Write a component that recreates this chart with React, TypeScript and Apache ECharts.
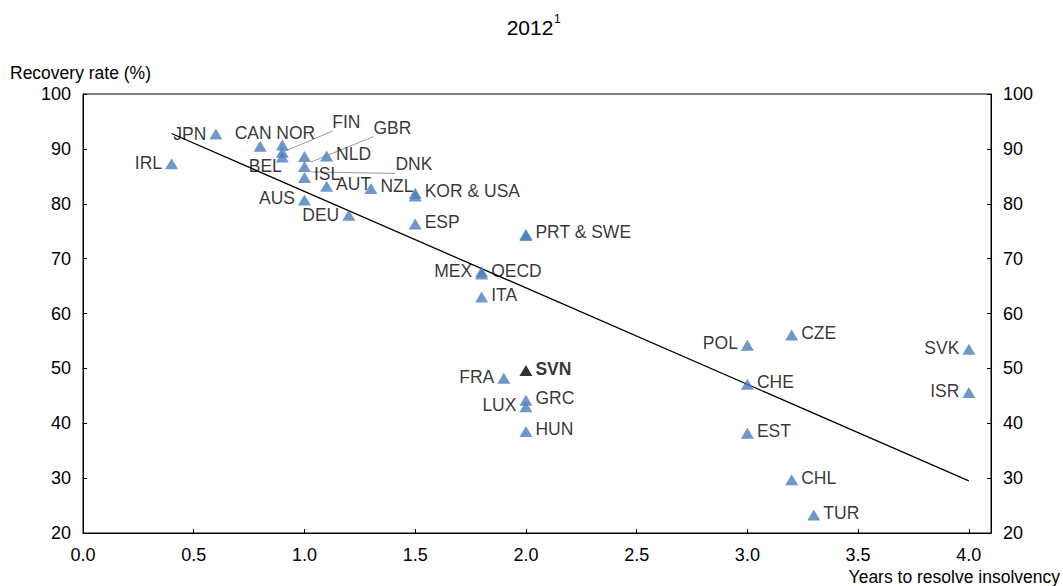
import React, { useEffect, useRef } from "react";
import * as echarts from "echarts";

// ---- data ----
const countries = ["IRL","JPN","CAN","NOR","FIN","BEL","GBR","DNK","ISL","NLD","AUT","NZL","KOR","USA","AUS","DEU","ESP","PRT","SWE","MEX","OECD","ITA","FRA","SVN","GRC","LUX","HUN","POL","CZE","CHE","EST","CHL","TUR","SVK","ISR"];
const years = [0.4,0.6,0.8,0.9,0.9,0.9,1.0,1.0,1.0,1.1,1.1,1.3,1.5,1.5,1.0,1.2,1.5,2.0,2.0,1.8,1.8,1.8,1.9,2.0,2.0,2.0,2.0,3.0,3.2,3.0,3.0,3.2,3.3,4.0,4.0];
const recovery = [87.3,92.7,90.5,90.7,89.4,88.5,88.6,86.8,84.8,88.7,83.2,82.8,81.9,81.4,80.7,77.9,76.3,74.4,74.2,67.6,67.2,63.0,48.2,49.6,44.2,43.0,38.5,54.2,56.1,47.1,38.2,29.7,23.3,53.5,45.6];
const labelTexts = ["IRL","JPN","CAN","NOR","FIN","BEL","GBR","DNK","ISL","NLD","AUT","NZL","KOR & USA","","AUS","DEU","ESP","PRT & SWE","","MEX","OECD","ITA","FRA","SVN","GRC","LUX","HUN","POL","CZE","CHE","EST","CHL","TUR","SVK","ISR"];
const highlighted = ["SVN"];
const trendYears = [0.4, 4.0];
const trendRecovery = [92.8, 29.5];
const xMin = 0, xMax = 4.1, xStep = 0.5;
const yMin = 20, yMax = 100, yStep = 10;
const titleText = "2012";
const titleNote = "1";
const yName = "Recovery rate (%)";
const xName = "Years to resolve insolvency";

// ---- label layout (style only) ----
type Place = { pos: "left" | "right"; off: [number, number]; line?: boolean };
const placement: Record<string, Place> = {
  IRL: { pos: "left", off: [0, -1] },
  JPN: { pos: "left", off: [0, 0] },
  CAN: { pos: "left", off: [21, -13] },
  NOR: { pos: "right", off: [-15.5, -12] },
  FIN: { pos: "right", off: [40.5, -30], line: true },
  BEL: { pos: "left", off: [9, 9] },
  GBR: { pos: "right", off: [59.5, -29], line: true },
  DNK: { pos: "right", off: [81.5, -2], line: true },
  ISL: { pos: "right", off: [0, -3] },
  AUS: { pos: "left", off: [0, -2] },
  DEU: { pos: "left", off: [0, 0] },
  MEX: { pos: "left", off: [0, -1] },
  OECD: { pos: "right", off: [0, -3] },
  FRA: { pos: "left", off: [0, -1] },
  LUX: { pos: "left", off: [0, -2] },
  POL: { pos: "left", off: [0, -2] },
  SVK: { pos: "left", off: [0, -1] },
  ISR: { pos: "left", off: [0, -2] },
};

const FONT = '"Liberation Sans", Arial, sans-serif';
const BLUE = "#4A7EBB";

export default function App() {
  const ref = useRef<HTMLDivElement>(null);
  useEffect(() => {
    if (!ref.current) return;
    const chart = echarts.init(ref.current, null, { renderer: "svg" });
    const scatterData = countries.map((c, i) => {
      const p = placement[c] || { pos: "right", off: [0, -2] };
      const isHi = highlighted.includes(c);
      return {
        name: c,
        value: [years[i], recovery[i]],
        itemStyle: { color: isHi ? "#000" : BLUE },
        label: {
          show: labelTexts[i] !== "",
          formatter: labelTexts[i],
          position: p.pos,
          offset: p.off,
          fontWeight: isHi ? "bold" : "normal",
        },
        labelLine: p.line
          ? { show: true, lineStyle: { color: "#9a9a9a", width: 1 } }
          : { show: false },
      };
    });
    const option: any = {
      animation: false,
      textStyle: { fontFamily: FONT },
      grid: {
        left: 83,
        right: 72,
        top: 94,
        bottom: 53,
        show: true,
        borderColor: "#000",
        borderWidth: 1,
      },
      graphic: [
        {
          type: "text",
          x: 530,
          y: 27,
          style: {
            text: titleText,
            font: `21px ${FONT}`,
            fill: "#000",
            align: "center",
            verticalAlign: "middle",
          },
        },
        {
          type: "text",
          x: 554,
          y: 13,
          style: { text: titleNote, font: `12px ${FONT}`, fill: "#000" },
        },
        {
          type: "text",
          x: 10,
          y: 73,
          style: {
            text: yName,
            font: `17.5px ${FONT}`,
            fill: "#000",
            verticalAlign: "middle",
          },
        },
        {
          type: "text",
          x: 1060,
          y: 577,
          style: {
            text: xName,
            font: `17.5px ${FONT}`,
            fill: "#000",
            align: "right",
            verticalAlign: "middle",
          },
        },
      ],
      xAxis: {
        type: "value",
        min: xMin,
        max: xMax,
        interval: xStep,
        splitLine: { show: false },
        axisLine: { show: true, lineStyle: { color: "#000", width: 1 } },
        axisTick: { show: true, inside: true, length: 4, lineStyle: { color: "#000" } },
        axisLabel: {
          margin: 13,
          fontSize: 18,
          color: "#000",
          fontFamily: FONT,
          formatter: (v: number) =>
            v <= 4.0001 && Math.abs(v / xStep - Math.round(v / xStep)) < 1e-6 ? v.toFixed(1) : "",
        },
      },
      yAxis: [
        {
          type: "value",
          min: yMin,
          max: yMax,
          interval: yStep,
          position: "left",
          splitLine: { show: false },
          axisLine: { show: true, lineStyle: { color: "#000", width: 1 } },
          axisTick: { show: true, inside: true, length: 4, lineStyle: { color: "#000" } },
          axisLabel: { margin: 12, fontSize: 18, color: "#000", fontFamily: FONT },
        },
        {
          type: "value",
          min: yMin,
          max: yMax,
          interval: yStep,
          position: "right",
          splitLine: { show: false },
          axisLine: { show: true, lineStyle: { color: "#000", width: 1 } },
          axisTick: { show: true, inside: true, length: 4, lineStyle: { color: "#000" } },
          axisLabel: { margin: 12, fontSize: 18, color: "#000", fontFamily: FONT },
        },
      ],
      series: [
        {
          type: "line",
          data: trendYears.map((x, i) => [x, trendRecovery[i]]),
          showSymbol: false,
          symbol: "none",
          lineStyle: { color: "#000", width: 1.3 },
          silent: true,
          z: 1,
        },
        {
          type: "scatter",
          symbol: "triangle",
          symbolSize: [13, 11],
          data: scatterData,
          label: {
            show: true,
            distance: 3,
            fontSize: 17.5,
            color: "#000",
            fontFamily: FONT,
          },
          silent: true,
          z: 3,
        },
      ],
    };
    chart.setOption(option);
    return () => chart.dispose();
  }, []);
  return (
    <div
      ref={ref}
      style={{ position: "fixed", left: 0, top: 0, width: 1063, height: 586, background: "#fff" }}
    />
  );
}
